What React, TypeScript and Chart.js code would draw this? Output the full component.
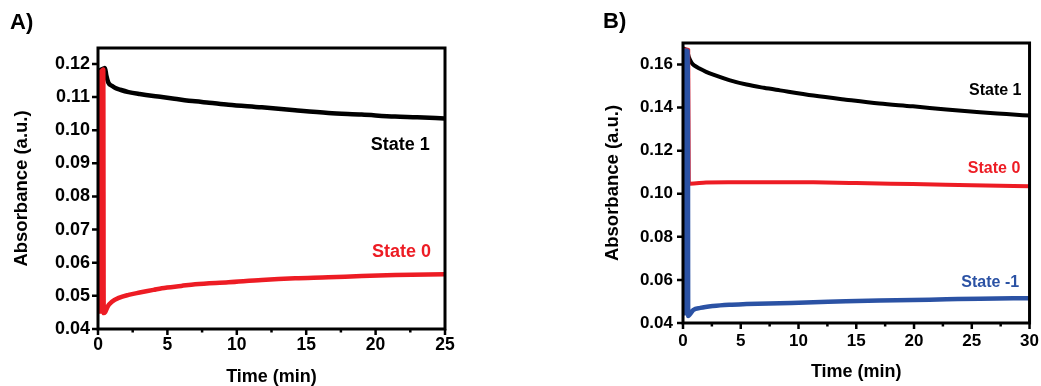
import React, { useEffect, useRef } from 'react';
import { Chart, registerables } from 'chart.js';

Chart.register(...registerables);

const FONT = "'Liberation Sans', Arial, Helvetica, sans-serif";
const RED = '#ED1C24';
const BLUE = '#2B52A4';
const BLACK = '#000000';

// ---------- Panel A data ----------
const A_STATE1_T = [0, 0.2, 0.4, 0.5, 0.6, 0.75, 1.0, 1.25, 1.6, 2.2, 3, 4, 4.6, 5.5, 7, 8, 9.4, 11.8, 14.2, 16.6, 19, 21.4, 23, 25];
const A_STATE1_Y = [0.1178, 0.1182, 0.1186, 0.1188, 0.1165, 0.1143, 0.1134, 0.1127, 0.1122, 0.1115, 0.1109, 0.1103, 0.1100, 0.1095, 0.1087, 0.1083, 0.1077, 0.1069, 0.1060, 0.1052, 0.1047, 0.1041, 0.1039, 0.1035];
const A_STATE0_T = [0.12, 0.15, 0.25, 0.38, 0.41, 0.5, 0.7, 1.0, 1.5, 2.2, 3, 4, 4.6, 6, 7, 9.4, 11.8, 14.2, 16.6, 19, 21.4, 25];
const A_STATE0_Y = [0.0446, 0.1170, 0.1178, 0.1183, 0.0448, 0.0450, 0.0468, 0.0482, 0.0494, 0.0503, 0.0510, 0.0518, 0.0523, 0.0530, 0.0535, 0.0541, 0.0548, 0.0553, 0.0556, 0.0560, 0.0563, 0.0565];
const A_X_TICKS = [0, 5, 10, 15, 20, 25];
const A_Y_TICKS = [0.04, 0.05, 0.06, 0.07, 0.08, 0.09, 0.10, 0.11, 0.12];
const A_LABELS = ['State 1', 'State 0'];
const A_LABEL_T = [23.9, 24.0];
const A_LABEL_V = [0.0956, 0.0633];

// ---------- Panel B data ----------
const B_STATE1_T = [0, 0.2, 0.37, 0.5, 0.75, 1.0, 1.47, 2, 2.62, 4, 5.5, 7, 8.4, 11.3, 14.1, 17, 19.9, 22.8, 25.7, 28, 30];
const B_STATE1_Y = [0.1675, 0.1670, 0.1662, 0.1635, 0.1608, 0.1595, 0.1580, 0.1566, 0.1553, 0.1528, 0.1507, 0.1492, 0.1480, 0.1456, 0.1437, 0.1419, 0.1406, 0.1391, 0.1378, 0.1370, 0.1363];
const B_STATE0_T = [0.1, 0.3, 0.45, 0.5, 0.6, 2, 3.9, 7, 11.3, 15, 19.9, 25, 30];
const B_STATE0_Y = [0.1670, 0.1670, 0.1668, 0.1048, 0.1047, 0.1052, 0.1054, 0.1054, 0.1053, 0.1050, 0.1045, 0.1040, 0.1035];
const B_STATEM1_T = [0.06, 0.08, 0.3, 0.42, 0.45, 0.6, 0.89, 1.5, 2.6, 4, 5.5, 8.4, 11.3, 14.1, 17, 19.9, 22.8, 25.7, 30];
const B_STATEM1_Y = [0.0435, 0.1662, 0.1665, 0.1662, 0.0432, 0.0440, 0.0460, 0.0470, 0.0479, 0.0485, 0.0488, 0.0492, 0.0496, 0.0501, 0.0504, 0.0507, 0.0510, 0.0513, 0.0515];
const B_X_TICKS = [0, 5, 10, 15, 20, 25, 30];
const B_Y_TICKS = [0.04, 0.06, 0.08, 0.10, 0.12, 0.14, 0.16];
const B_LABELS = ['State 1', 'State 0', 'State -1'];
const B_LABEL_T = [29.3, 29.2, 29.1];
const B_LABEL_V = [0.1479, 0.1116, 0.0586];

const pts = (t: number[], y: number[]) => t.map((v, i) => ({ x: v, y: y[i] }));

type PanelCfg = {
  width: number;
  panelLabel: string;
  panelLabelX: number;
  panelLabelY: number;
  padRight: number;
  padTop: number;
  yWidth: number;
  xHeight: number;
  xMax: number;
  yMin: number;
  yMax: number;
  xTicks: number[];
  yTicks: number[];
  xTickPad: number;
  yTickPad: number;
  yTitlePad: number;
  xTitlePadBottom: number;
  xTickFont: number;
  yTickFont: number;
  labelFont: number;
  datasets: any[];
  labels: string[];
  labelT: number[];
  labelV: number[];
  labelColors: string[];
};

function decoPlugin(cfg: PanelCfg) {
  return {
    id: 'deco',
    afterDraw(chart: any) {
      const { ctx, chartArea } = chart;
      const { left, right, top, bottom } = chartArea;
      const xs = chart.scales.x;
      const ys = chart.scales.y;
      ctx.save();
      ctx.strokeStyle = BLACK;
      ctx.lineCap = 'butt';
      ctx.lineWidth = 2.5;
      ctx.beginPath();
      xs.ticks.forEach((t: any) => {
        const px = xs.getPixelForValue(t.value);
        ctx.moveTo(px, bottom);
        ctx.lineTo(px, bottom + 6);
      });
      for (let i = 0; i < xs.ticks.length - 1; i++) {
        const mid = (xs.ticks[i].value + xs.ticks[i + 1].value) / 2;
        const px = xs.getPixelForValue(mid);
        ctx.moveTo(px, bottom);
        ctx.lineTo(px, bottom + 3.5);
      }
      ys.ticks.forEach((t: any) => {
        const py = ys.getPixelForValue(t.value);
        ctx.moveTo(left - 6, py);
        ctx.lineTo(left, py);
      });
      ctx.stroke();
      ctx.lineWidth = 3;
      ctx.strokeRect(left, top, right - left, bottom - top);

      // annotations
      ctx.textAlign = 'right';
      ctx.textBaseline = 'middle';
      ctx.font = `bold ${cfg.labelFont}px ${FONT}`;
      cfg.labels.forEach((txt, i) => {
        ctx.fillStyle = cfg.labelColors[i];
        ctx.fillText(txt, xs.getPixelForValue(cfg.labelT[i]), ys.getPixelForValue(cfg.labelV[i]));
      });

      // panel label
      ctx.textAlign = 'left';
      ctx.fillStyle = BLACK;
      ctx.font = `bold 22px ${FONT}`;
      ctx.fillText(cfg.panelLabel, cfg.panelLabelX, cfg.panelLabelY);
      ctx.restore();
    },
  };
}

function Panel({ cfg, left }: { cfg: PanelCfg; left: number }) {
  const ref = useRef<HTMLCanvasElement | null>(null);
  useEffect(() => {
    if (!ref.current) return;
    const chart = new Chart(ref.current, {
      type: 'line',
      data: { datasets: cfg.datasets },
      options: {
        responsive: false,
        animation: false,
        events: [],
        layout: { padding: { left: 0, right: cfg.padRight, top: cfg.padTop, bottom: 0 } },
        plugins: { legend: { display: false }, tooltip: { enabled: false } },
        elements: { point: { radius: 0 } },
        scales: {
          x: {
            type: 'linear',
            min: 0,
            max: cfg.xMax,
            afterBuildTicks: (s: any) => {
              s.ticks = cfg.xTicks.map((v) => ({ value: v }));
            },
            afterFit: (s: any) => {
              s.height = cfg.xHeight;
            },
            border: { display: false },
            grid: { display: true, drawOnChartArea: false, drawTicks: true, tickLength: 6, color: 'rgba(0,0,0,0)' },
            ticks: {
              autoSkip: false,
              maxRotation: 0,
              padding: cfg.xTickPad,
              color: BLACK,
              font: { family: FONT, size: cfg.xTickFont, weight: 'bold' },
              callback: (v: any) => String(v),
            },
            title: {
              display: true,
              text: 'Time (min)',
              color: BLACK,
              font: { family: FONT, size: 18, weight: 'bold' },
              padding: { top: 0, bottom: cfg.xTitlePadBottom },
            },
          },
          y: {
            type: 'linear',
            min: cfg.yMin,
            max: cfg.yMax,
            afterBuildTicks: (s: any) => {
              s.ticks = cfg.yTicks.map((v) => ({ value: v }));
            },
            afterFit: (s: any) => {
              s.width = cfg.yWidth;
            },
            border: { display: false },
            grid: { display: true, drawOnChartArea: false, drawTicks: true, tickLength: 6, color: 'rgba(0,0,0,0)' },
            ticks: {
              autoSkip: false,
              padding: cfg.yTickPad,
              color: BLACK,
              font: { family: FONT, size: cfg.yTickFont, weight: 'bold' },
              callback: (v: any) => Number(v).toFixed(2),
            },
            title: {
              display: true,
              text: 'Absorbance (a.u.)',
              color: BLACK,
              font: { family: FONT, size: 18.5, weight: 'bold' },
              padding: { top: cfg.yTitlePad, bottom: 0 },
            },
          },
        },
      } as any,
      plugins: [decoPlugin(cfg)],
    });
    return () => chart.destroy();
  }, [cfg]);
  return (
    <div style={{ position: 'absolute', left, top: 0, width: cfg.width, height: 386 }}>
      <canvas ref={ref} width={cfg.width} height={386} style={{ display: 'block' }} />
    </div>
  );
}

const lineDs = (label: string, data: any[], color: string, width: number, order: number) => ({
  label,
  data,
  borderColor: color,
  backgroundColor: color,
  borderWidth: width,
  pointRadius: 0,
  fill: false,
  cubicInterpolationMode: 'monotone',
  order,
});

const CFG_A: PanelCfg = {
  width: 520,
  panelLabel: 'A)',
  panelLabelX: 10,
  panelLabelY: 23,
  padRight: 75,
  padTop: 48,
  yWidth: 98,
  xHeight: 57,
  xMax: 25,
  yMin: 0.04,
  yMax: 0.1248,
  xTicks: A_X_TICKS,
  yTicks: A_Y_TICKS,
  xTickPad: 0,
  yTickPad: 2,
  yTitlePad: 10.5,
  xTitlePadBottom: -2,
  xTickFont: 17.5,
  yTickFont: 18,
  labelFont: 18,
  datasets: [
    lineDs('State 1', pts(A_STATE1_T, A_STATE1_Y), BLACK, 4.5, 2),
    lineDs('State 0', pts(A_STATE0_T, A_STATE0_Y), RED, 4.5, 1),
  ],
  labels: A_LABELS,
  labelT: A_LABEL_T,
  labelV: A_LABEL_V,
  labelColors: [BLACK, RED],
};

const CFG_B: PanelCfg = {
  width: 521,
  panelLabel: 'B)',
  panelLabelX: 83,
  panelLabelY: 22,
  padRight: 11,
  padTop: 43,
  yWidth: 163,
  xHeight: 63,
  xMax: 30,
  yMin: 0.04,
  yMax: 0.17,
  xTicks: B_X_TICKS,
  yTicks: B_Y_TICKS,
  xTickPad: 2,
  yTickPad: 4,
  yTitlePad: 82,
  xTitlePadBottom: 3.5,
  xTickFont: 17,
  yTickFont: 17,
  labelFont: 16,
  datasets: [
    lineDs('State 1', pts(B_STATE1_T, B_STATE1_Y), BLACK, 4, 3),
    lineDs('State 0', pts(B_STATE0_T, B_STATE0_Y), RED, 4, 2),
    lineDs('State -1', pts(B_STATEM1_T, B_STATEM1_Y), BLUE, 4.5, 1),
  ],
  labels: B_LABELS,
  labelT: B_LABEL_T,
  labelV: B_LABEL_V,
  labelColors: [BLACK, RED, BLUE],
};

export default function App() {
  return (
    <div style={{ position: 'absolute', left: 0, top: 0, width: 1041, height: 386, background: '#fff', overflow: 'hidden' }}>
      <Panel cfg={CFG_A} left={0} />
      <Panel cfg={CFG_B} left={520} />
    </div>
  );
}
